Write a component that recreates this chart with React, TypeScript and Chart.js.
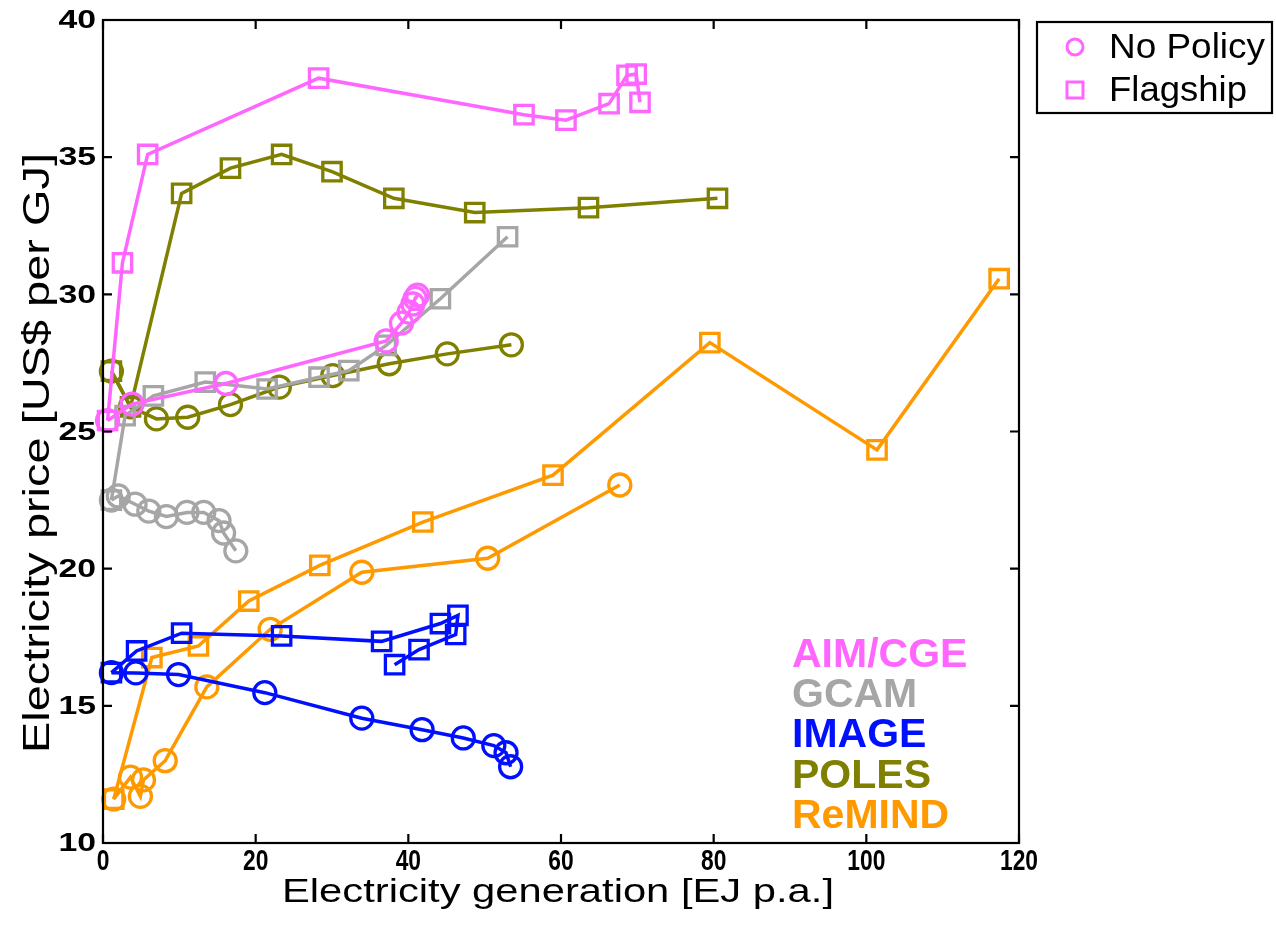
import React, { useEffect, useRef } from "react";
import { Chart, registerables } from "chart.js";

Chart.register(...registerables);

// ---------- data ----------
const modelNames = ["AIM/CGE", "GCAM", "IMAGE", "POLES", "ReMIND"];
const modelColors = ["#FF66FF", "#A6A6A6", "#0010FF", "#808000", "#FF9900"];
const legendLabels = ["No Policy", "Flagship"];
const xTickValues = [0, 20, 40, 60, 80, 100, 120];
const yTickValues = [10, 15, 20, 25, 30, 35, 40];
const xTitle = "Electricity generation [EJ p.a.]";
const yTitle = "Electricity price [US$ per GJ]";

const aimNoPolicyX = [0.6, 3.8, 16.1, 37.1, 39.1, 40.1, 40.6, 40.9, 41.2];
const aimNoPolicyY = [25.4, 26.0, 26.75, 28.3, 28.95, 29.35, 29.65, 29.85, 29.97];
const aimFlagshipX = [0.6, 2.55, 5.85, 28.25, 55.15, 60.65, 66.3, 68.65, 69.85, 70.35];
const aimFlagshipY = [25.4, 31.15, 35.1, 37.88, 36.55, 36.35, 36.95, 37.98, 38.03, 37.0];

const gcamNoPolicyX = [1.1, 2.0, 4.2, 6.0, 8.3, 11.0, 13.2, 15.2, 15.8, 17.4];
const gcamNoPolicyY = [22.5, 22.65, 22.35, 22.1, 21.9, 22.05, 22.05, 21.75, 21.3, 20.65];
const gcamFlagshipX = [1.1, 2.9, 6.6, 13.4, 21.5, 28.3, 32.2, 37.1, 44.2, 53.0];
const gcamFlagshipY = [22.5, 25.58, 26.3, 26.8, 26.55, 26.98, 27.22, 28.14, 29.84, 32.1];

const imageNoPolicyX = [1.1, 4.3, 9.9, 21.2, 33.9, 41.8, 47.2, 51.2, 52.8, 53.4];
const imageNoPolicyY = [16.21, 16.2, 16.14, 15.48, 14.55, 14.13, 13.83, 13.55, 13.29, 12.78];
const imageFlagshipX = [1.1, 4.4, 10.3, 23.4, 36.5, 44.2, 46.5, 46.2, 41.4, 38.2];
const imageFlagshipY = [16.21, 17.0, 17.65, 17.55, 17.35, 18.0, 18.3, 17.6, 17.05, 16.5];

const polesNoPolicyX = [1.1, 3.6, 7.0, 11.1, 16.7, 23.1, 30.1, 37.5, 45.1, 53.5];
const polesNoPolicyY = [27.2, 25.9, 25.46, 25.52, 25.98, 26.62, 27.04, 27.47, 27.83, 28.16];
const polesFlagshipX = [1.1, 3.6, 10.3, 16.7, 23.4, 30.0, 38.1, 48.7, 63.6, 80.5];
const polesFlagshipY = [27.2, 25.9, 33.68, 34.6, 35.1, 34.47, 33.5, 32.98, 33.16, 33.5];

const remindNoPolicyX = [1.4, 3.6, 4.9, 5.3, 8.15, 13.6, 21.9, 33.9, 50.4, 67.7];
const remindNoPolicyY = [11.6, 12.4, 11.7, 12.3, 13.0, 15.69, 17.79, 19.87, 20.38, 23.05];
const remindFlagshipX = [1.4, 6.4, 12.5, 19.1, 28.4, 41.9, 58.95, 79.5, 101.4, 117.4];
const remindFlagshipY = [11.6, 16.76, 17.18, 18.82, 20.12, 21.7, 23.41, 28.24, 24.33, 30.57];

const noPolicyX = [aimNoPolicyX, gcamNoPolicyX, imageNoPolicyX, polesNoPolicyX, remindNoPolicyX];
const noPolicyY = [aimNoPolicyY, gcamNoPolicyY, imageNoPolicyY, polesNoPolicyY, remindNoPolicyY];
const flagshipX = [aimFlagshipX, gcamFlagshipX, imageFlagshipX, polesFlagshipX, remindFlagshipX];
const flagshipY = [aimFlagshipY, gcamFlagshipY, imageFlagshipY, polesFlagshipY, remindFlagshipY];

// ---------- helpers ----------
const FONT = '"Liberation Sans", Arial, sans-serif';

function pts(xs: number[], ys: number[]) {
  return xs.map((x, i) => ({ x, y: ys[i] }));
}

function drawText(
  ctx: CanvasRenderingContext2D,
  text: string,
  x: number,
  y: number,
  font: string,
  opts: { sx?: number; sy?: number; width?: number; align?: CanvasTextAlign; baseline?: CanvasTextBaseline; rotate?: number; color?: string }
) {
  ctx.save();
  ctx.font = font;
  ctx.translate(x, y);
  if (opts.rotate) ctx.rotate(opts.rotate);
  let sx = opts.sx ?? 1;
  if (opts.width) sx = opts.width / ctx.measureText(text).width;
  ctx.scale(sx, opts.sy ?? 1);
  ctx.textAlign = opts.align ?? "left";
  ctx.textBaseline = opts.baseline ?? "alphabetic";
  ctx.fillStyle = opts.color ?? "#000";
  ctx.fillText(text, 0, 0);
  ctx.restore();
}

const decorPlugin = {
  id: "decor",
  afterDraw(chart: any) {
    const ctx: CanvasRenderingContext2D = chart.ctx;
    const { left, right, top, bottom } = chart.chartArea;
    const xs = chart.scales.x;
    const ys = chart.scales.y;
    ctx.save();
    // frame
    ctx.strokeStyle = "#000";
    ctx.lineWidth = 2.2;
    ctx.strokeRect(left, top, right - left, bottom - top);
    // ticks (inside)
    ctx.beginPath();
    ys.ticks.forEach((t: any) => {
      const p = ys.getPixelForValue(t.value);
      ctx.moveTo(left, p);
      ctx.lineTo(left + 9, p);
      ctx.moveTo(right, p);
      ctx.lineTo(right - 9, p);
    });
    xs.ticks.forEach((t: any) => {
      const p = xs.getPixelForValue(t.value);
      ctx.moveTo(p, bottom);
      ctx.lineTo(p, bottom - 9);
      ctx.moveTo(p, top);
      ctx.lineTo(p, top + 9);
    });
    ctx.stroke();
    // tick labels
    ys.ticks.forEach((t: any) => {
      const p = ys.getPixelForValue(t.value);
      drawText(ctx, String(t.value), 96, p + 1, `bold 26px ${FONT}`, { sx: 1.3, align: "right", baseline: "middle" });
    });
    xs.ticks.forEach((t: any) => {
      const p = xs.getPixelForValue(t.value);
      drawText(ctx, String(t.value), p, 847, `bold 24px ${FONT}`, { sx: 0.95, sy: 1.25, align: "center", baseline: "top" });
    });
    // axis titles
    drawText(ctx, xTitle, 558, 902, `34px ${FONT}`, { width: 552, align: "center" });
    drawText(ctx, yTitle, 49, 453, `37px ${FONT}`, { width: 600, align: "center", rotate: -Math.PI / 2 });
    // model labels
    const baselines = [667, 707, 747, 788, 828];
    modelNames.forEach((name, i) => {
      drawText(ctx, name, 792, baselines[i], `bold 41px ${FONT}`, { color: modelColors[i] });
    });
    // legend
    ctx.lineWidth = 2.2;
    ctx.strokeStyle = "#000";
    ctx.strokeRect(1037, 22, 235, 91);
    ctx.strokeStyle = modelColors[0];
    ctx.lineWidth = 3;
    ctx.beginPath();
    ctx.arc(1075, 47, 8, 0, Math.PI * 2);
    ctx.stroke();
    ctx.strokeRect(1067, 82, 16, 16);
    drawText(ctx, legendLabels[0], 1109, 58, `35px ${FONT}`, { width: 156 });
    drawText(ctx, legendLabels[1], 1109, 101, `35px ${FONT}`, { width: 138 });
    ctx.restore();
  },
};

export default function App() {
  const ref = useRef<HTMLCanvasElement | null>(null);
  useEffect(() => {
    if (!ref.current) return;
    const datasets: any[] = [];
    modelNames.forEach((name, i) => {
      const common = {
        showLine: true,
        borderColor: modelColors[i],
        backgroundColor: "rgba(0,0,0,0)",
        borderWidth: 3.5,
        pointBorderColor: modelColors[i],
        pointBackgroundColor: "rgba(0,0,0,0)",
        pointBorderWidth: 3.3,
        clip: false,
        tension: 0,
      };
      datasets.push({
        ...common,
        label: `${name} ${legendLabels[1]}`,
        data: pts(flagshipX[i], flagshipY[i]),
        pointStyle: "rect",
        pointRadius: 13,
      });
      datasets.push({
        ...common,
        label: `${name} ${legendLabels[0]}`,
        data: pts(noPolicyX[i], noPolicyY[i]),
        pointStyle: "circle",
        pointRadius: 11,
      });
    });
    const chart = new Chart(ref.current, {
      type: "scatter",
      data: { datasets },
      options: {
        animation: false,
        responsive: false,
        devicePixelRatio: 1,
        layout: { padding: { left: 0, top: 20, right: 257, bottom: 0 } },
        plugins: { legend: { display: false }, tooltip: { enabled: false } },
        scales: {
          x: {
            type: "linear",
            min: xTickValues[0],
            max: xTickValues[xTickValues.length - 1],
            ticks: { stepSize: xTickValues[1] - xTickValues[0], display: false },
            grid: { display: false },
            border: { display: false },
            afterFit: (s: any) => {
              s.height = 86;
            },
          },
          y: {
            type: "linear",
            min: yTickValues[0],
            max: yTickValues[yTickValues.length - 1],
            ticks: { stepSize: yTickValues[1] - yTickValues[0], display: false },
            grid: { display: false },
            border: { display: false },
            afterFit: (s: any) => {
              s.width = 103;
            },
          },
        },
      } as any,
      plugins: [decorPlugin],
    });
    return () => chart.destroy();
  }, []);
  return (
    <div style={{ position: "absolute", left: 0, top: 0, width: 1276, height: 929, background: "#fff" }}>
      <canvas ref={ref} width={1276} height={929} style={{ display: "block" }} />
    </div>
  );
}
